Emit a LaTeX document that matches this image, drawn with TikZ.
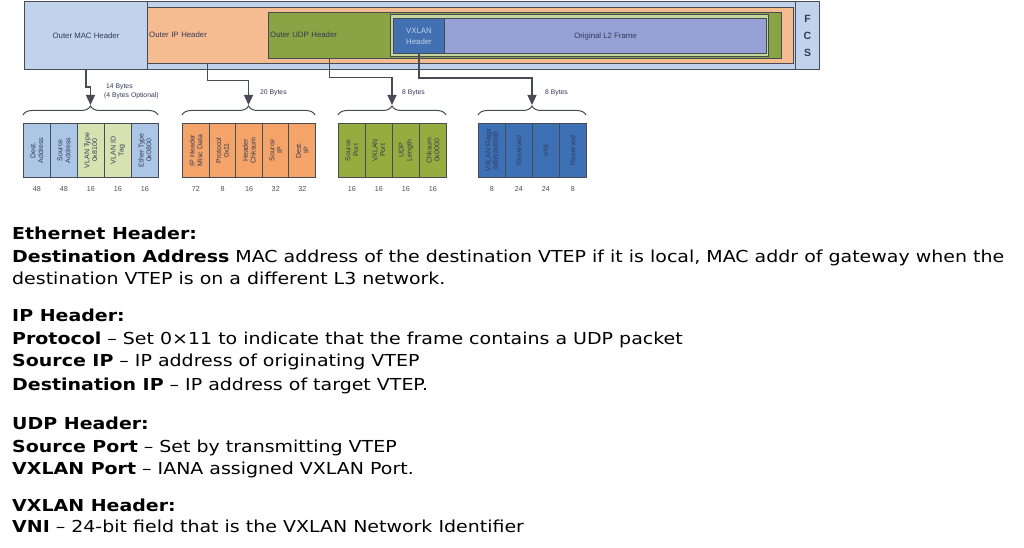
\documentclass[tikz,border=0pt]{standalone}
\usepackage{fontspec}
\setmainfont{DejaVu Sans}[FakeStretch=1.15]
\newfontfamily\diagfont{Liberation Sans}
\usetikzlibrary{arrows.meta,decorations.pathreplacing}
\definecolor{frame}{RGB}{70,75,85}
\definecolor{lblue}{RGB}{192,211,234}
\definecolor{orng}{RGB}{246,188,145}
\definecolor{olive}{RGB}{138,163,68}
\definecolor{lgreen}{RGB}{196,214,156}
\definecolor{dblue}{RGB}{66,112,176}
\definecolor{lav}{RGB}{150,161,214}
\definecolor{txt}{RGB}{50,58,88}
\definecolor{fblue}{RGB}{172,198,230}
\definecolor{fgreen}{RGB}{214,227,176}
\definecolor{forng}{RGB}{244,164,104}
\definecolor{folive}{RGB}{150,172,62}
\definecolor{fdblue}{RGB}{62,112,182}
\definecolor{numgray}{RGB}{80,80,80}
\begin{document}
\begin{tikzpicture}[x=1bp,y=-1bp,
  box/.style={draw=frame, line width=1bp, inner sep=0pt, anchor=north west},
  hdr/.style={font=\diagfont\fontsize{7.8bp}{11bp}\selectfont, text=txt},
  fld/.style={draw=frame, line width=0.9bp},
  fldtxt/.style={font=\diagfont\fontsize{7bp}{7.8bp}\selectfont, text=txt, rotate=90, align=center, inner sep=0pt},
  num/.style={font=\diagfont\fontsize{7.2bp}{8bp}\selectfont, text=numgray},
  bytes/.style={font=\diagfont\fontsize{6.8bp}{8bp}\selectfont, text=txt, anchor=west, inner sep=0pt},
  conn/.style={draw=frame, line width=1.3bp, -{Triangle[length=10bp,width=9bp]}},
  brc/.style={draw=frame, line width=1bp, decorate, decoration={brace, amplitude=9bp}},
  body/.style={font=\fontsize{16.5bp}{20bp}\selectfont, anchor=base west, inner sep=0pt, text=black}]
\useasboundingbox (0,0) rectangle (1024,548);
\fill[white] (0,0) rectangle (1024,548);

% ---- encapsulated frame ----
\node[box, fill=lblue, minimum width=771bp, minimum height=68bp] (outer) at (24,1) {};
\node[box, fill=lblue, minimum width=24bp, minimum height=68bp, align=center, font=\diagfont\bfseries\fontsize{10.5bp}{17bp}\selectfont, text=txt] (fcs) at (795,1) {F\\C\\S};
\node[box, fill=orng, minimum width=646bp, minimum height=56bp, line width=0.7bp] (ipbody) at (147,7) {};
\node[box, fill=olive, minimum width=513bp, minimum height=46bp] (udpbody) at (268,12) {};
\node[box, fill=lgreen, minimum width=378bp, minimum height=42bp, line width=0.8bp] (inner) at (390,14) {};
\node[box, fill=lblue, minimum width=123bp, minimum height=68bp, hdr] (mac) at (24,1) {Outer MAC Header};
\node[anchor=north west, minimum width=121bp, minimum height=56bp, text width=117bp, align=left, inner sep=2bp, hdr] (iph) at (147,7) {Outer IP Header};
\node[anchor=north west, minimum width=122bp, minimum height=46bp, text width=118bp, align=left, inner sep=2bp, hdr] (udph) at (268,12) {Outer UDP Header};
\node[box, fill=dblue, minimum width=51bp, minimum height=35bp, align=center, hdr, text=lblue] (vxh) at (393,18) {VXLAN\\Header};
\node[box, fill=lav, minimum width=322bp, minimum height=35bp, hdr] (l2) at (444,18) {Original L2 Frame};

% ---- braces ----
\draw[brc] (23,115) -- (158,115);
\draw[brc] (182,115) -- (315,115);
\draw[brc] (338,115) -- (446,115);
\draw[brc] (478,115) -- (586,115);
\coordinate (ebr) at (90.5,105);
\coordinate (ibr) at (248.5,105);
\coordinate (ubr) at (392,105);
\coordinate (vbr) at (532,105);

% ---- connectors ----
\draw[conn] (mac.south) -- ++(0,17) -| (ebr);
\draw[conn] (iph.south) -- ++(0,17) -| (ibr);
\draw[conn] (udph.south) -- ++(0,19) -| (ubr);
\draw[conn] (vxh.south) -- ++(0,24) -| (vbr);

% ---- byte labels ----
\node[bytes] (b1) at (106,87) {14 Bytes};
\node[bytes] (b1b) at (104,96) {(4 Bytes Optional)};
\node[bytes] (b2) at (260,93) {20 Bytes};
\node[bytes] (b3) at (402,93) {8 Bytes};
\node[bytes] (b4) at (545,93) {8 Bytes};

% ---- fields ----
\foreach \x/\c/\t/\n [count=\i] in {
  23/fblue/{Dest.\\Address}/48,
  50/fblue/{Source\\Address}/48,
  77/fgreen/{VLAN Type\\0x8100}/16,
  104/fgreen/{VLAN ID\\Tag}/16,
  131/fblue/{Ether Type\\0x0800}/16,
  182/forng/{IP Header\\Misc Data}/72,
  208.6/forng/{Protocol\\0x11}/8,
  235.2/forng/{Header\\Chksum}/16,
  261.8/forng/{Source\\IP}/32,
  288.4/forng/{Dest.\\IP}/32,
  338/folive/{Source\\Port}/16,
  365/folive/{VXLAN\\Port}/16,
  392/folive/{UDP\\Length}/16,
  419/folive/{Chksum\\0x0000}/16,
  478/fdblue/{VXLAN Flags\\RRRRIRRR}/8,
  505/fdblue/{Reserved}/24,
  532/fdblue/{VNI}/24,
  559/fdblue/{Reserved}/8}
{
  \node[fld, fill=\c, anchor=north west, minimum width=27bp, minimum height=54bp, inner sep=0pt] (f\i) at (\x,123) {};
  \node[fldtxt] (ft\i) at (f\i.center) {\t};
  \node[num] (n\i) at ([yshift=-11bp]f\i.south) {\n};
}

% ---- explanatory text ----
\node[body] (t1) at (12,240) {\textbf{Ethernet Header:}};
\node[body] (t2) at (12,263) {\textbf{Destination Address} MAC address of the destination VTEP if it is local, MAC addr of gateway when the};
\node[body] (t3) at (12,285) {destination VTEP is on a different L3 network.};
\node[body] (t4) at (12,322) {\textbf{IP Header:}};
\node[body] (t5) at (12,345) {\textbf{Protocol} – Set 0×11 to indicate that the frame contains a UDP packet};
\node[body] (t6) at (12,367) {\textbf{Source IP} – IP address of originating VTEP};
\node[body] (t7) at (12,390) {\textbf{Destination IP} – IP address of target VTEP.};
\node[body] (t8) at (12,429) {\textbf{UDP Header:}};
\node[body] (t9) at (12,452) {\textbf{Source Port} – Set by transmitting VTEP};
\node[body] (t10) at (12,474) {\textbf{VXLAN Port} – IANA assigned VXLAN Port.};
\node[body] (t11) at (12,511) {\textbf{VXLAN Header:}};
\node[body] (t12) at (12,532) {\textbf{VNI} – 24-bit field that is the VXLAN Network Identifier};
\end{tikzpicture}
\end{document}
